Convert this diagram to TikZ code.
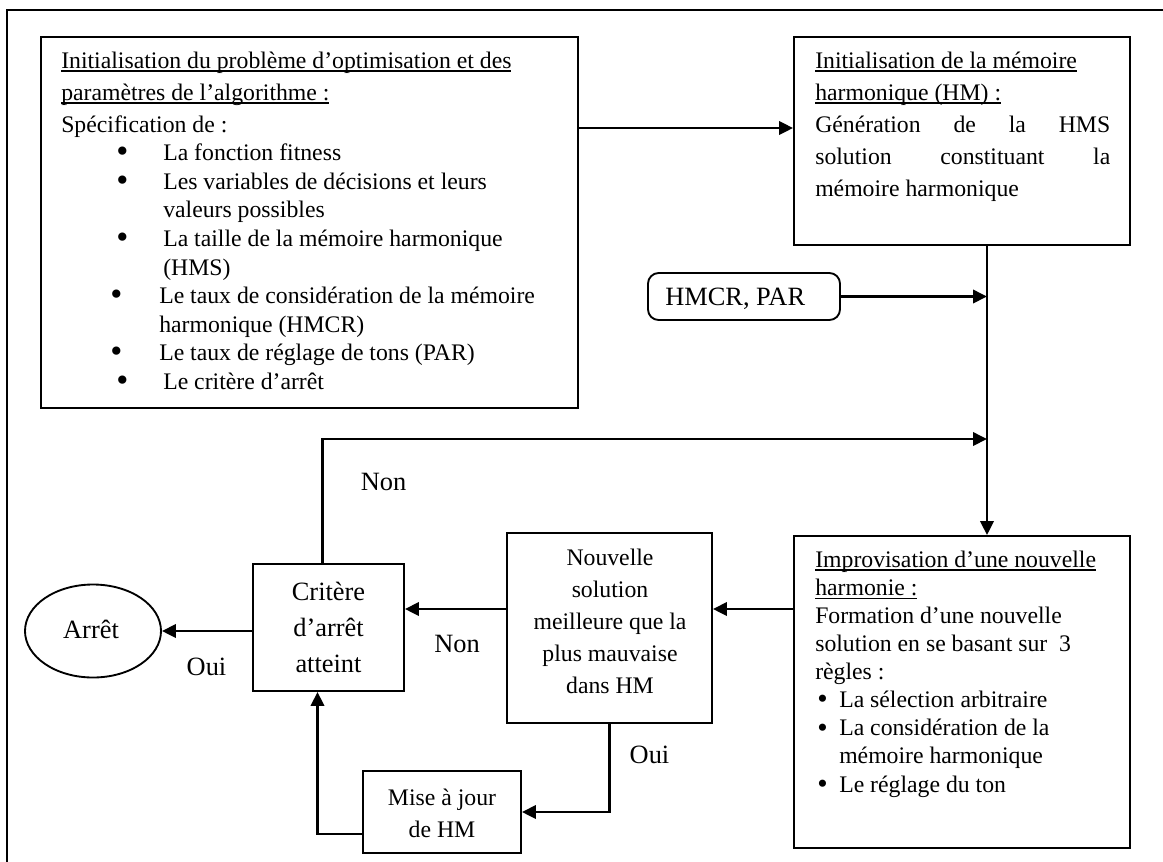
\documentclass[tikz,border=0pt]{standalone}
\usepackage{fontspec}
\setmainfont{Liberation Serif}
\usetikzlibrary{arrows.meta,shapes.geometric,fit,calc}

% one drawing unit = one pixel of the final image
\newlength\pxu \setlength\pxu{0.75pt}
% underlined heading text
\newcommand\ulin[1]{\leavevmode\setbox0\hbox{#1}\rlap{\rule[-3.8\pxu]{\wd0}{1.4\pxu}}\box0}
\newcommand\mainfs{\fontsize{17.8pt}{21.45pt}\selectfont}
\newcommand\labfs{\fontsize{19.8pt}{24pt}\selectfont}
% heavier list bullets
\newcommand\bigbul{\raisebox{-0.09em}{\scalebox{1.45}{\textbullet}}}
\newcommand\midbul{\raisebox{-0.05em}{\scalebox{1.25}{\textbullet}}}
% bullet item: indent before the bullet, width of bullet column
\newcommand\itm[2]{\hspace*{#1\pxu}\makebox[#2\pxu][l]{\bigbul}}
\newcommand\itmb[2]{\hspace*{#1\pxu}\makebox[#2\pxu][l]{\midbul}}

\begin{document}
\begin{tikzpicture}[x=0.75pt, y=-0.75pt,
  box/.style={draw, line width=1.4pt, inner sep=0pt},
  conn/.style={line width=1.9pt},
  arr/.style={conn, -{Triangle[length=10.5pt,width=10pt]}},
  txt/.style={inner sep=0pt, anchor=base west, font=\mainfs},
  ctxt/.style={inner sep=0pt, anchor=base, font=\mainfs},
  lab/.style={inner sep=0pt, anchor=base, font=\labfs}]
\useasboundingbox (0,0) rectangle (1163,861);

% outer frame (top and left edges)
\draw[line width=1.7pt] (1175,10) -- (7,10) -- (7,875);

% boxes
\node[box, fit={(41,37) (578,408)}] (init) {};
\node[box, fit={(794,37) (1130,245)}] (hm) {};
\node[box, rounded corners=8pt, fit={(648,273) (840,320)}] (hmcr) {};
\node[box, fit={(794,536) (1130,848)}] (improv) {};
\node[box, fit={(507,533) (712,723)}] (nouv) {};
\node[box, fit={(253,564) (404,691)}] (crit) {};
\node[box, fit={(363,771) (521,853)}] (mise) {};
\node[draw, ellipse, line width=1.4pt, inner sep=0pt,
      minimum width=102pt, minimum height=69.75pt] (arret) at (93,631) {};

% box texts
\node[txt] (tinit) at (61,68) {\parbox[t]{515\pxu}{\raggedright\mainfs
  \ulin{Initialisation du problème d’optimisation et des}\\[2.55pt]
  \ulin{paramètres de l’algorithme :}\\[2.55pt]
  Spécification de :\\
  \itm{55}{47}La fonction fitness\\
  \itm{55}{47}Les variables de décisions et leurs\\
  \hspace*{102\pxu}valeurs possibles\\
  \itm{55}{47}La taille de la mémoire harmonique\\
  \hspace*{102\pxu}(HMS)\\
  \itm{49}{49}Le taux de considération de la mémoire\\
  \hspace*{98\pxu}harmonique (HMCR)\\
  \itm{49}{49}Le taux de réglage de tons (PAR)\\
  \itm{55}{47}Le critère d’arrêt}};

\node[txt] (thm) at (815,68) {\parbox[t]{295\pxu}{\raggedright\fontsize{17.8pt}{24pt}\selectfont
  \ulin{Initialisation de la mémoire}\\
  \ulin{harmonique (HM) :}\\
  \makebox[295\pxu][s]{Génération de la HMS}\\
  \makebox[295\pxu][s]{solution constituant la}\\
  mémoire harmonique}};

\node[txt, font=\labfs] (thmcr) at (665,305) {HMCR, PAR};

\node[txt] (timp) at (815,567) {\parbox[t]{300\pxu}{\raggedright\fontsize{17.8pt}{21.1pt}\selectfont
  \ulin{Improvisation d’une nouvelle}\\
  \ulin{harmonie :}\\
  Formation d’une nouvelle\\
  solution en se basant sur\ \ 3\\
  règles :\\
  \itmb{2}{22}La sélection arbitraire\\
  \itmb{2}{22}La considération de la\\
  \hspace*{24\pxu}mémoire harmonique\\
  \itmb{2}{22}Le réglage du ton}};

\node[ctxt] (tnouv) at (610,565) {\parbox[t]{200\pxu}{\centering\fontsize{17.8pt}{24pt}\selectfont
  Nouvelle\\ solution\\ meilleure que la\\ plus mauvaise\\ dans HM}};

\node[lab] (tcrit) at (328.5,600) {\parbox[t]{145\pxu}{\centering\fontsize{19.8pt}{27pt}\selectfont
  Critère\\ d’arrêt\\ atteint}};

\node[ctxt] (tmise) at (442,805) {\parbox[t]{155\pxu}{\centering\fontsize{17.8pt}{24pt}\selectfont
  Mise à jour\\ de HM}};

\node[lab] (tarret) at (91,638) {Arrêt};

% connector labels
\node[lab] (lnon1) at (383.5,490) {Non};
\node[lab] (lnon2) at (457,652) {Non};
\node[lab] (loui1) at (206.5,675) {Oui};
\node[lab] (loui2) at (649.5,763) {Oui};

% helper coordinates for connector rows and the main vertical line
\coordinate (j) at (987,0);
\coordinate (rA) at (0,128);
\coordinate (rB) at (0,439);
\coordinate (rC) at (0,609);
\coordinate (critTop) at ($(crit.north)+(-6,0)$);
\coordinate (critBot) at ($(crit.south)+(-11,0)$);
\coordinate (miseOut) at ($(mise.south west)+(0,-20)$);

% connectors
\draw[arr] (init.east |- rA) -- (hm.west |- rA);
\draw[arr] (hm.south -| j) -- (improv.north -| j);
\draw[arr] (hmcr.east) -- (hmcr.east -| j);
\draw[arr] (critTop) |- (j |- rB);
\draw[arr] (improv.west |- rC) -- (nouv.east |- rC);
\draw[arr] (nouv.west |- rC) -- (crit.east |- rC);
\draw[arr] (crit.west |- arret.east) -- (arret.east);
\draw[arr] (nouv.south) |- (mise.east);
\draw[arr] (miseOut) -| (critBot);
\end{tikzpicture}
\end{document}
